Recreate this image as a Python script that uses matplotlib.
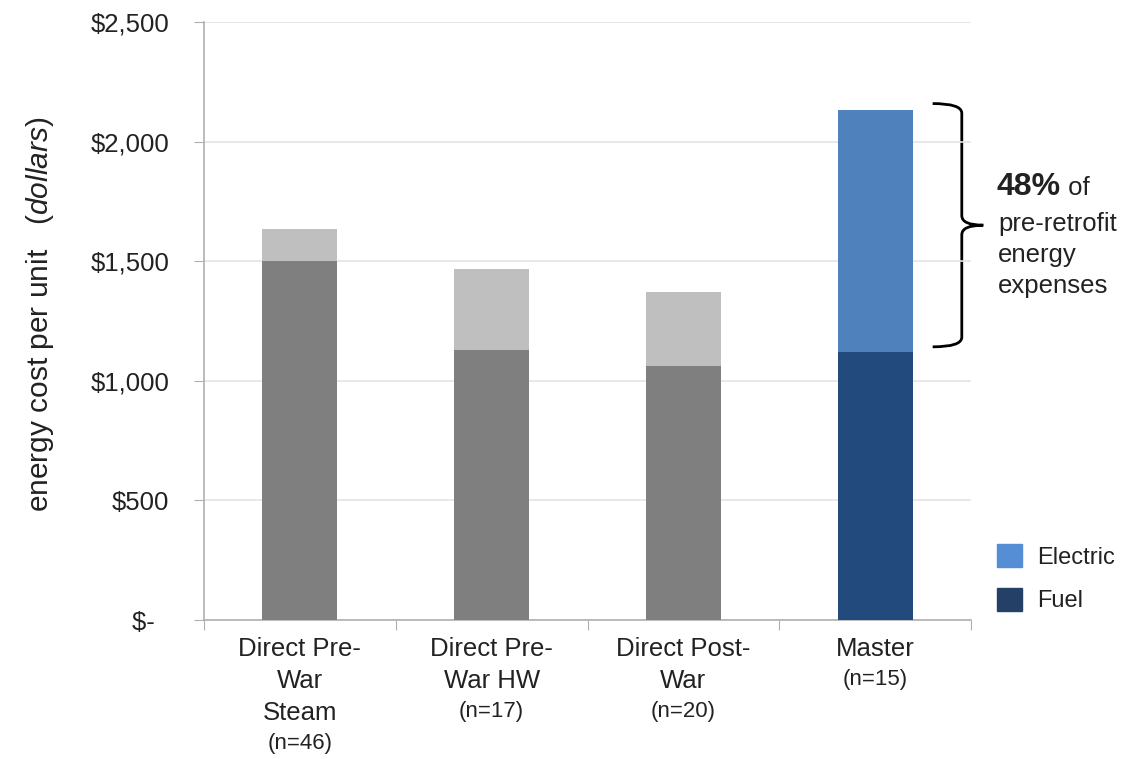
import numpy as np
import matplotlib
matplotlib.use('Agg')
import matplotlib.pyplot as plt
from matplotlib.path import Path
from matplotlib.patches import PathPatch, Patch
import matplotlib.transforms as mtransforms

plt.rcParams['font.family'] = ['Liberation Sans', 'DejaVu Sans']
plt.rcParams['mathtext.fontset'] = 'custom'
plt.rcParams['mathtext.rm'] = 'Liberation Sans'
plt.rcParams['mathtext.it'] = 'Liberation Sans:italic'

# data (dollars per unit)
categories = ['Direct Pre-\nWar\nSteam', 'Direct Pre-\nWar HW', 'Direct Post-\nWar', 'Master']
n_labels = ['(n=46)', '(n=17)', '(n=20)', '(n=15)']
fuel = [1500, 1130, 1060, 1120]
electric = [133, 336, 312, 1011]
ticks = [0, 500, 1000, 1500, 2000, 2500]
tick_labels = ['$-  ', '$500', '$1,000', '$1,500', '$2,000', '$2,500']

fuel_cols = ['#7f7f7f', '#7f7f7f', '#7f7f7f', '#234a7c']
elec_cols = ['#bfbfbf', '#bfbfbf', '#bfbfbf', '#4f81bd']
txt = '#222222'

fig = plt.figure(figsize=(11.34, 7.59), dpi=100)
ax = fig.add_axes([204/1134, 1-620/759, 767/1134, 598/759])

x = np.arange(len(categories))
ax.bar(x, fuel, width=0.39, color=fuel_cols, zorder=3)
ax.bar(x, electric, width=0.39, bottom=fuel, color=elec_cols, zorder=3)

ax.set_xlim(-0.5, 3.5)
ax.set_ylim(0, 2500)
ax.set_yticks(ticks)
ax.set_yticklabels(tick_labels)
ax.grid(axis='y', color='#e4e4e4', lw=1.2, zorder=0)
ax.set_xticks(np.arange(-0.5, 4, 1))
ax.set_xticklabels([])
ax.tick_params(axis='y', direction='out', length=7, color='#b0b0b0', labelsize=18.5, labelcolor=txt, pad=18)
ax.tick_params(axis='x', direction='out', length=7, color='#b0b0b0')
for s in ['top', 'right']:
    ax.spines[s].set_visible(False)
for s in ['left', 'bottom']:
    ax.spines[s].set_color('#b0b0b0')
    ax.spines[s].set_linewidth(1.2)

# category labels with sample size below
for i, (c, n) in enumerate(zip(categories, n_labels)):
    t = ax.annotate(c, xy=(i, 0), xycoords='data', xytext=(0, -12.5), textcoords='offset points',
                    ha='center', va='top', fontsize=18.5, color=txt, linespacing=1.42)
    ax.annotate(n, xy=(0.5, 0), xycoords=t, xytext=(0, -5.5), textcoords='offset points',
                ha='center', va='top', fontsize=16, color=txt)

fig.text(40/1134, 1-314/759, 'energy cost per unit   $\\mathit{(dollars)}$', rotation=90,
         ha='center', va='center', fontsize=21.5, color=txt)

# brace next to the Master bar
trans = mtransforms.blended_transform_factory(ax.transAxes, ax.transData)
top = fuel[3] + electric[3] + 28
bot = fuel[3] + 22
mid = (top + bot) / 2
x0, x1, x2 = 0.950, 0.988, 1.016
r = 40
verts = [(x0, top), (x1, top), (x1, top - r),
         (x1, mid + r), (x1, mid), (x2, mid),
         (x1, mid), (x1, mid - r),
         (x1, bot + r), (x1, bot), (x0, bot)]
codes = [Path.MOVETO, Path.CURVE3, Path.CURVE3,
         Path.LINETO, Path.CURVE3, Path.CURVE3,
         Path.CURVE3, Path.CURVE3,
         Path.LINETO, Path.CURVE3, Path.CURVE3]
ax.add_patch(PathPatch(Path(verts, codes), transform=trans, fill=False, lw=2.0,
                       color='black', clip_on=False, capstyle='butt'))

t48 = ax.text((997-204)/767, (620-187)/598, '48%', transform=ax.transAxes, fontsize=23,
              fontweight='bold', ha='left', va='center', color=txt)
ax.annotate(' of', xy=(1, 0.08), xycoords=t48, xytext=(0, 0), textcoords='offset points',
            ha='left', va='bottom', fontsize=18.5, color=txt)
ax.text((998-204)/767, (620-212)/598, 'pre-retrofit\nenergy\nexpenses', transform=ax.transAxes,
        fontsize=18.5, ha='left', va='top', color=txt, linespacing=1.38)

handles = [Patch(color='#558ed5', label='Electric'), Patch(color='#254066', label='Fuel')]
ax.legend(handles=handles, loc='upper left', bbox_to_anchor=((997-204)/767, (620-544)/598),
          frameon=False, fontsize=17, handlelength=1.06, handleheight=1.14,
          handletextpad=0.64, labelspacing=0.8, borderpad=0, borderaxespad=0,
          labelcolor=txt)

fig.savefig('out.png', dpi=100)
